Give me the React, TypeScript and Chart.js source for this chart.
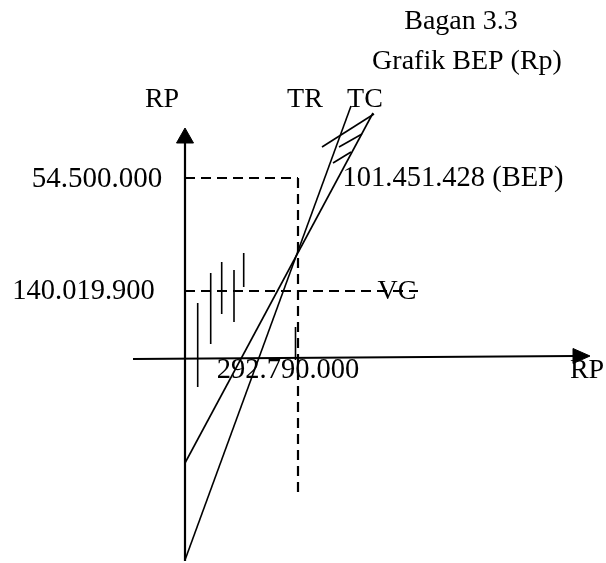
import React, { useEffect, useRef } from "react";
import { Chart, registerables } from "chart.js";

Chart.register(...registerables);

type P = { x: number; y: number };

// Axes of the BEP diagram (origin at the crossing of the two axes)
const verticalAxis: P[] = [{ x: 0, y: -203 }, { x: 0, y: 216 }];
const verticalArrow: P[] = [{ x: -8.5, y: 215 }, { x: 0, y: 230 }, { x: 8.5, y: 215 }, { x: -8.5, y: 215 }];
const horizontalAxis: P[] = [{ x: -52, y: -1 }, { x: 390, y: 2 }];
const horizontalArrow: P[] = [{ x: 388, y: 9.5 }, { x: 405, y: 2 }, { x: 388, y: -5.5 }, { x: 388, y: 9.5 }];

// Revenue / cost lines
const lineTR: P[] = [{ x: 0, y: -202 }, { x: 166, y: 252 }];
const lineTC: P[] = [{ x: 0, y: -105 }, { x: 188, y: 245 }];

// Dashed guides
const bepRevenueGuide: P[] = [{ x: 0, y: 180 }, { x: 113, y: 180 }];
const bepQuantityGuide: P[] = [{ x: 113, y: 180 }, { x: 113, y: -139 }];
const vcGuide: P[] = [{ x: 0, y: 67 }, { x: 233, y: 67 }];

// Hatch marks between the lines near the top
const hatchMarks: P[][] = [
  [{ x: 137, y: 211 }, { x: 189, y: 244 }],
  [{ x: 154, y: 211 }, { x: 177, y: 224 }],
  [{ x: 148, y: 195 }, { x: 166, y: 206 }],
];

// Short vertical strokes
const tickMarks: P[][] = [
  [{ x: 12.7, y: 55 }, { x: 12.7, y: -29 }],
  [{ x: 25.7, y: 85 }, { x: 25.7, y: 14 }],
  [{ x: 36.7, y: 96 }, { x: 36.7, y: 44 }],
  [{ x: 49, y: 88 }, { x: 49, y: 36 }],
  [{ x: 58.7, y: 105 }, { x: 58.7, y: 71 }],
  [{ x: 110.5, y: 31 }, { x: 110.5, y: -2 }],
];

// Text labels
const labelTexts: string[] = [
  "Bagan 3.3",
  "Grafik BEP (Rp)",
  "RP",
  "TR",
  "TC",
  "54.500.000",
  "101.451.428 (BEP)",
  "140.019.900",
  "VC",
  "292.790.000",
  "RP",
];
const labelAnchors: P[] = [
  { x: 276, y: 336 },
  { x: 282, y: 296 },
  { x: -23, y: 258 },
  { x: 120, y: 258 },
  { x: 180, y: 258 },
  { x: -88, y: 179 },
  { x: 268, y: 179 },
  { x: -101.5, y: 66 },
  { x: 212, y: 66 },
  { x: 103, y: -13 },
  { x: 402, y: -13 },
];
const labelSizes: number[] = [28, 28, 28, 28, 28, 29, 28.5, 28.5, 28, 28.5, 28];

export default function App() {
  const ref = useRef<HTMLCanvasElement | null>(null);

  useEffect(() => {
    if (!ref.current) return;

    const seg = (data: P[], width: number, dash: number[] = []) => ({
      data,
      showLine: true,
      borderColor: "#000",
      backgroundColor: "#000",
      borderWidth: width,
      borderDash: dash,
      pointRadius: 0,
      pointHoverRadius: 0,
      fill: false,
      tension: 0,
    });
    const arrow = (data: P[]) => ({
      ...seg(data, 1),
      fill: "shape",
    });

    const textPlugin = {
      id: "diagramText",
      afterDatasetsDraw(chart: any) {
        const { ctx, scales } = chart;
        ctx.save();
        ctx.fillStyle = "#000";
        ctx.textAlign = "center";
        ctx.textBaseline = "middle";
        labelTexts.forEach((t, i) => {
          const a = labelAnchors[i];
          ctx.font = `${labelSizes[i]}px "Liberation Serif", "Times New Roman", serif`;
          ctx.fillText(t, scales.x.getPixelForValue(a.x), scales.y.getPixelForValue(a.y));
        });
        ctx.restore();
      },
    };

    const chart = new Chart(ref.current, {
      type: "scatter",
      data: {
        datasets: [
          seg(verticalAxis, 2.2),
          arrow(verticalArrow),
          seg(horizontalAxis, 2.2),
          arrow(horizontalArrow),
          seg(lineTR, 1.6),
          seg(lineTC, 1.6),
          seg(bepRevenueGuide, 2.2, [10, 6]),
          seg(bepQuantityGuide, 2.2, [10, 6]),
          seg(vcGuide, 2.2, [10, 6]),
          ...hatchMarks.map((h) => seg(h, 1.6)),
          ...tickMarks.map((t) => seg(t, 1.6)),
        ] as any,
      },
      options: {
        animation: false,
        responsive: false,
        maintainAspectRatio: false,
        layout: { padding: 0 },
        plugins: { legend: { display: false }, tooltip: { enabled: false } },
        events: [],
        scales: {
          x: { type: "linear", min: -185, max: 421, display: false },
          y: { type: "linear", min: -205, max: 358, display: false },
        },
      } as any,
      plugins: [textPlugin],
    });
    return () => chart.destroy();
  }, []);

  return (
    <div style={{ position: "fixed", left: 0, top: 0, width: 606, height: 563, background: "#fff" }}>
      <canvas ref={ref} width={606} height={563} style={{ width: 606, height: 563 }} />
    </div>
  );
}
